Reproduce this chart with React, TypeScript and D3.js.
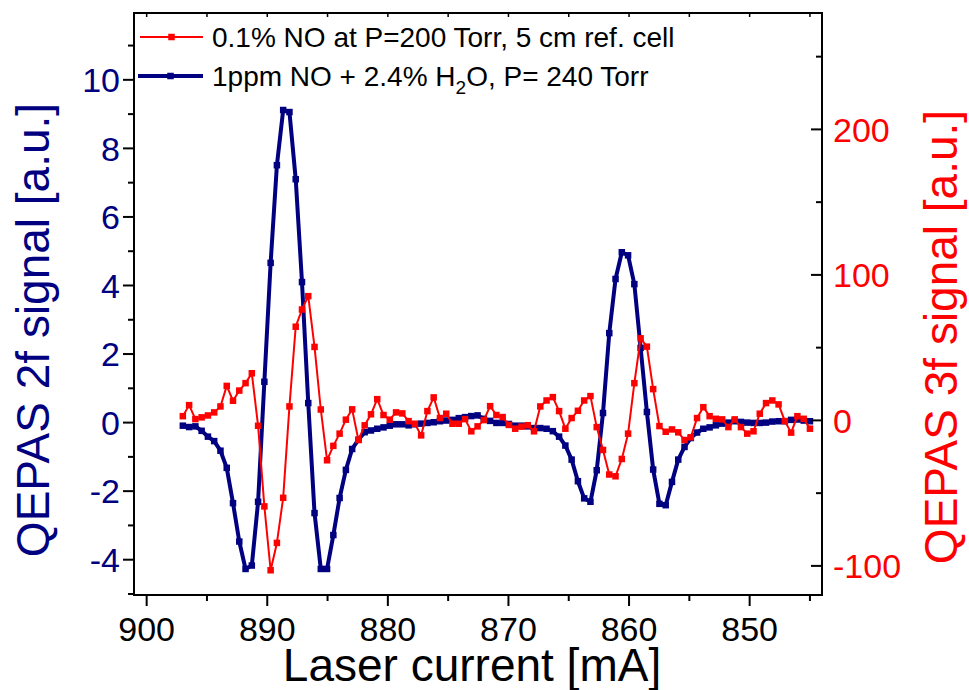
import React from "react";
import * as d3 from "d3";

// Laser current [mA]
const currents = [
  897.0, 896.48, 895.96, 895.44, 894.92, 894.4, 893.88, 893.36, 892.84, 892.32,
  891.8, 891.28, 890.76, 890.24, 889.72, 889.2, 888.68, 888.16, 887.64, 887.12,
  886.6, 886.08, 885.56, 885.04, 884.52, 884.0, 883.48, 882.96, 882.44, 881.92,
  881.4, 880.88, 880.36, 879.84, 879.32, 878.8, 878.28, 877.76, 877.24, 876.72,
  876.2, 875.68, 875.16, 874.64, 874.12, 873.6, 873.08, 872.56, 872.04, 871.52,
  871.0, 870.48, 869.96, 869.44, 868.92, 868.4, 867.88, 867.36, 866.84, 866.32,
  865.8, 865.28, 864.76, 864.24, 863.72, 863.2, 862.68, 862.16, 861.64, 861.12,
  860.6, 860.08, 859.56, 859.04, 858.52, 858.0, 857.48, 856.96, 856.44, 855.92,
  855.4, 854.88, 854.36, 853.84, 853.32, 852.8, 852.28, 851.76, 851.24, 850.72,
  850.2, 849.68, 849.16, 848.64, 848.12, 847.6, 847.08, 846.56, 846.04, 845.52,
  845.0,
];

// 1ppm NO + 2.4% H2O, P= 240 Torr (QEPAS 2f, left axis)
const signal2f = [
  -0.09, -0.13, -0.11, -0.24, -0.41, -0.54, -0.82, -1.32, -2.35, -3.47,
  -4.27, -4.17, -2.31, 1.19, 4.66, 7.51, 9.12, 9.06, 7.1, 4.1,
  0.57, -2.64, -4.27, -4.27, -3.28, -2.2, -1.38, -0.77, -0.5, -0.28,
  -0.23, -0.18, -0.14, -0.09, -0.05, -0.05, -0.08, -0.05, -0.03, -0.01,
  0.01, 0.04, 0.06, 0.08, 0.13, 0.16, 0.19, 0.21, 0.11, 0.05,
  -0.01, -0.01, -0.04, -0.09, -0.09, -0.11, -0.16, -0.16, -0.18, -0.25,
  -0.41, -0.67, -1.08, -1.71, -2.21, -2.31, -1.39, 0.28, 2.61, 4.19,
  4.97, 4.88, 4.04, 2.18, 0.31, -1.37, -2.37, -2.41, -1.73, -1.08,
  -0.71, -0.45, -0.29, -0.18, -0.14, -0.08, -0.03, 0.0, 0.04, 0.02,
  0.0, -0.01, -0.01, 0.0, 0.03, 0.04, 0.04, 0.08, 0.09, 0.06,
  0.04,
];

// 0.1% NO at P=200 Torr, 5 cm ref. cell (QEPAS 3f, right axis)
const signal3f = [
  2.9, 10.5, 0.9, 2.1, 3.4, 5.5, 9.6, 23.7, 13.5, 20.5,
  25.6, 32.4, -3.7, -59.1, -103, -84.2, -53.2, 9.6, 64.4, 76.2,
  85.4, 50.5, 7.5, -27.4, -17.5, -9.1, 0.5, 7.6, -13.5, -3.4,
  4.2, 14.6, 3.7, 0.5, 5.5, 4.8, -0.5, -2.3, -10.3, 6.4,
  15.8, 1.6, 4.6, -2.3, -2.3, 0.9, -7.5, -4.1, 0.2, 9.8,
  3.7, 2.3, -3.1, -5.7, -4.3, -3.3, -7.5, 9.6, 13.7, 16.0,
  6.4, -5.7, 1.6, 6.6, 13.7, 16.7, -4.6, -20.3, -37.2, -38.4,
  -26.5, -9.1, 25.6, 56.4, 50.7, 21.5, -3.9, -7.8, -6.2, -8.2,
  -13.5, -11.6, 1.6, 9.1, 2.9, 1.1, 0.7, -4.6, 0.7, -4.6,
  -9.1, -7.5, 4.6, 11.9, 13.7, 11.0, -0.5, -8.4, 2.9, 1.1,
  -5.7,
];

const xMajorTicks = [900, 890, 880, 870, 860, 850];
const xMinorTicks = [895, 885, 875, 865, 855, 845];
const leftMajorTicks = [-4, -2, 0, 2, 4, 6, 8, 10];
const leftMinorTicks = [-5, -3, -1, 1, 3, 5, 7, 9, 11];
const rightMajorTicks = [-100, 0, 100, 200];
const rightMinorTicks = [-50, 50, 150, 250];

const legendRed = "0.1% NO at P=200 Torr, 5 cm ref. cell";
const xTitle = "Laser current [mA]";
const leftTitle = "QEPAS 2f signal [a.u.]";
const rightTitle = "QEPAS 3f signal [a.u.]";

const W = 969;
const H = 690;
const L = 134;
const R = 822;
const T = 13;
const B = 595;

const NAVY = "#000080";
const RED = "#ff0000";
const FONT = "'Liberation Sans', Arial, Helvetica, sans-serif";

export default function App() {
  const x = d3.scaleLinear().domain([901.05, 844.0]).range([L, R]);
  const yL = d3.scaleLinear().domain([-5.03, 11.95]).range([B, T]);
  const yR = d3.scaleLinear().domain([-120, 280]).range([B, T]);

  const lineL = d3
    .line<number>()
    .x((_, i) => x(currents[i]))
    .y((d) => yL(d));
  const lineR = d3
    .line<number>()
    .x((_, i) => x(currents[i]))
    .y((d) => yR(d));

  const ms = 6.5;

  return (
    <svg
      width={W}
      height={H}
      style={{ position: "absolute", left: 0, top: 0, background: "#fff" }}
      fontFamily={FONT}
    >
      <rect x={0} y={0} width={W} height={H} fill="#fff" />

      {/* series */}
      <path d={lineL(signal2f) || ""} fill="none" stroke={NAVY} strokeWidth={4} strokeLinejoin="round" />
      {signal2f.map((v, i) => (
        <rect key={"b" + i} x={x(currents[i]) - ms / 2} y={yL(v) - ms / 2} width={ms} height={ms} fill={NAVY} />
      ))}
      <path d={lineR(signal3f) || ""} fill="none" stroke={RED} strokeWidth={2} strokeLinejoin="round" />
      {signal3f.map((v, i) => (
        <rect key={"r" + i} x={x(currents[i]) - ms / 2} y={yR(v) - ms / 2} width={ms} height={ms} fill={RED} />
      ))}

      {/* frame */}
      <rect x={L} y={T} width={R - L} height={B - T} fill="none" stroke="#000" strokeWidth={2} />

      {/* bottom axis ticks */}
      {xMajorTicks.map((t) => (
        <line key={"xM" + t} x1={x(t)} x2={x(t)} y1={B} y2={B + 11} stroke="#000" strokeWidth={2} />
      ))}
      {xMinorTicks.map((t) => (
        <line key={"xm" + t} x1={x(t)} x2={x(t)} y1={B} y2={B + 6} stroke="#000" strokeWidth={2} />
      ))}
      {/* top axis ticks */}
      {[...xMajorTicks, ...xMinorTicks].map((t) => (
        <line key={"xt" + t} x1={x(t)} x2={x(t)} y1={T} y2={T + 4} stroke="#000" strokeWidth={1.5} />
      ))}
      {xMajorTicks.map((t) => (
        <text key={"xl" + t} x={x(t)} y={641} fontSize={34} textAnchor="middle" fill="#000">
          {t}
        </text>
      ))}

      {/* left axis */}
      {leftMajorTicks.map((t) => (
        <line key={"lM" + t} x1={L - 11} x2={L} y1={yL(t)} y2={yL(t)} stroke="#000" strokeWidth={2} />
      ))}
      {leftMinorTicks.map((t) => (
        <line key={"lm" + t} x1={L - 6} x2={L} y1={yL(t)} y2={yL(t)} stroke="#000" strokeWidth={2} />
      ))}
      {leftMajorTicks.map((t) => (
        <text key={"ll" + t} x={120} y={yL(t)} dy="0.36em" fontSize={34} textAnchor="end" fill={NAVY}>
          {t}
        </text>
      ))}

      {/* right axis */}
      {rightMajorTicks.map((t) => (
        <line key={"rM" + t} x1={R - 11} x2={R} y1={yR(t)} y2={yR(t)} stroke="#000" strokeWidth={2} />
      ))}
      {rightMinorTicks.map((t) => (
        <line key={"rm" + t} x1={R - 6} x2={R} y1={yR(t)} y2={yR(t)} stroke="#000" strokeWidth={2} />
      ))}
      {rightMajorTicks.map((t) => (
        <text key={"rl" + t} x={833} y={yR(t)} dy="0.36em" fontSize={34} textAnchor="start" fill={RED}>
          {t}
        </text>
      ))}

      {/* titles */}
      <text x={472} y={681} fontSize={46} textAnchor="middle" fill="#000">
        {xTitle}
      </text>
      <text
        transform="translate(49,330) rotate(-90)"
        fontSize={46}
        textAnchor="middle"
        fill={NAVY}
      >
        {leftTitle}
      </text>
      <text
        transform="translate(957,337) rotate(-90)"
        fontSize={46}
        textAnchor="middle"
        fill={RED}
      >
        {rightTitle}
      </text>

      {/* legend */}
      <line x1={140} x2={203} y1={37} y2={37} stroke={RED} strokeWidth={2} />
      <rect x={171.5 - ms / 2} y={37 - ms / 2} width={ms} height={ms} fill={RED} />
      <text x={212} y={47} fontSize={28} fill="#000">
        {legendRed}
      </text>
      <line x1={138} x2={203} y1={76} y2={76} stroke={NAVY} strokeWidth={4} />
      <rect x={170.5 - ms / 2} y={76 - ms / 2} width={ms} height={ms} fill={NAVY} />
      <text x={212} y={86} fontSize={28} fill="#000">
        1ppm NO + 2.4% H
        <tspan fontSize={19} dy={8}>2</tspan>
        <tspan dy={-8}>O, P= 240 Torr</tspan>
      </text>
    </svg>
  );
}
